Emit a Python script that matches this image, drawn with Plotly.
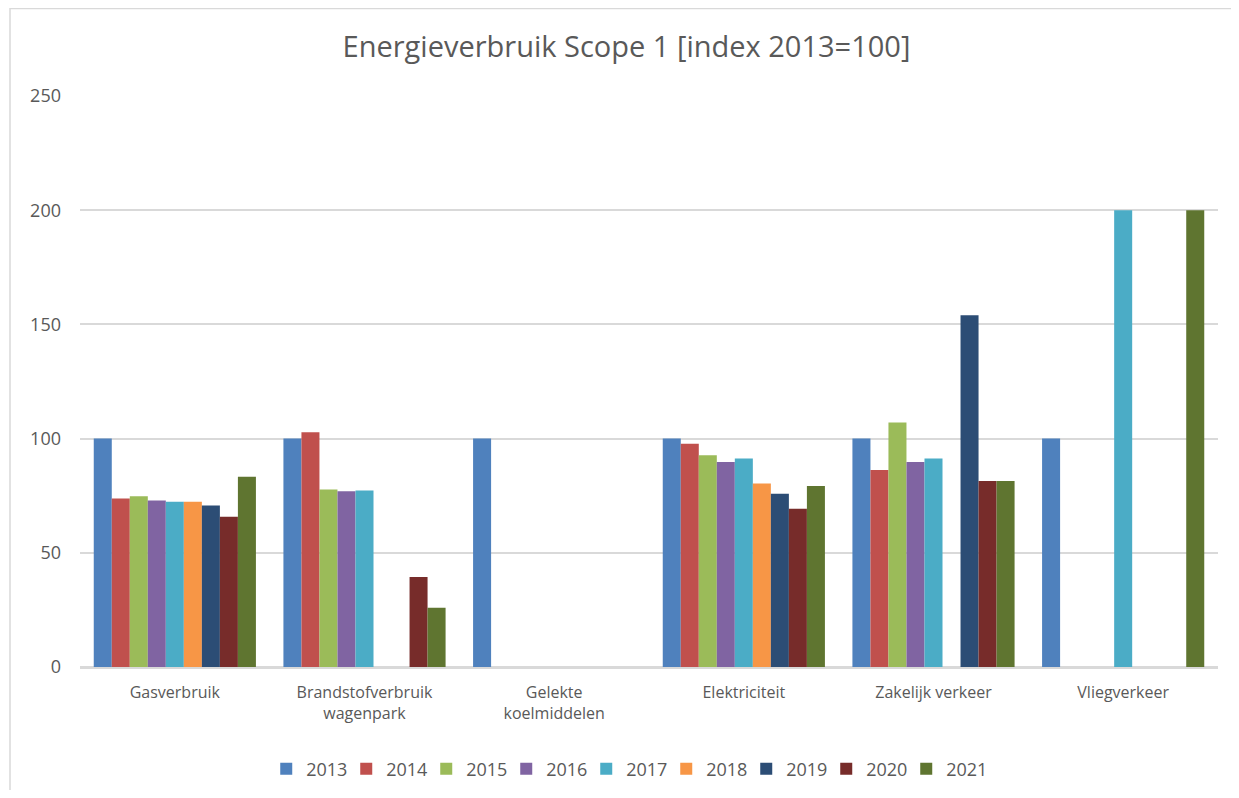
import plotly.graph_objects as go

categories = ["Gasverbruik", "Brandstofverbruik<br>wagenpark", "Gelekte<br>koelmiddelen",
              "Elektriciteit", "Zakelijk verkeer", "Vliegverkeer"]
years = ["2013", "2014", "2015", "2016", "2017", "2018", "2019", "2020", "2021"]

v2013 = [100, 100, 100, 100, 100, 100]
v2014 = [73.8, 102.8, None, 97.7, 86.3, None]
v2015 = [74.8, 77.7, None, 92.7, 107.1, None]
v2016 = [72.9, 76.9, None, 89.8, 89.8, None]
v2017 = [72.4, 77.3, None, 91.3, 91.3, 200]
v2018 = [72.4, None, None, 80.3, None, None]
v2019 = [70.7, None, None, 75.8, 154.0, None]
v2020 = [65.8, 39.4, None, 69.3, 81.4, None]
v2021 = [83.3, 25.9, None, 79.3, 81.4, 200]
series = [v2013, v2014, v2015, v2016, v2017, v2018, v2019, v2020, v2021]

colors = ["#4F81BD", "#C0504D", "#9BBB59", "#8064A2", "#4BACC6",
          "#F79646", "#2C4D75", "#772C2A", "#5F7530"]

fig = go.Figure()
for y, vals, c in zip(years, series, colors):
    fig.add_trace(go.Bar(name=y, x=categories, y=vals, marker_color=c,
                         marker_line_width=0))

# page body has an 8px offset; figure coordinates below are relative to it
W, H = 1223, 782
L, R, T, B = 72, 13, 88, 123
pw, ph = W - L - R, H - T - B

def px_x(x):
    return (x - L) / pw

def px_y(y):
    return (H - B - y) / ph

fig.add_shape(type="rect", xref="paper", yref="paper",
              x0=px_x(2), x1=px_x(W + 10), y0=px_y(H + 10), y1=px_y(0.5),
              line=dict(color="#d9d9d9", width=1.5), fillcolor="rgba(0,0,0,0)",
              layer="below")

fig.update_layout(
    width=W, height=H,
    margin=dict(l=L, r=R, t=T, b=B, autoexpand=False),
    paper_bgcolor="white", plot_bgcolor="white",
    barmode="group", bargap=0.145, bargroupgap=0,
    font=dict(family="Open Sans", color="#595959", size=16),
    title=dict(text="Energieverbruik Scope 1 [index 2013=100]",
               x=0.5 + 7 / W, xanchor="center", y=1 - 39 / H, yanchor="middle",
               font=dict(size=29, color="#595959")),
    legend=dict(orientation="h", x=px_x(546 + 72 - 5) if False else 0.48, xanchor="center",
                yref="container", y=1 - 761 / H, yanchor="middle",
                font=dict(size=18, color="#595959"), itemwidth=30,
                entrywidth=35, traceorder="normal"),
    xaxis=dict(showgrid=False, showline=True, linecolor="#d9d9d9", linewidth=1.5,
               tickfont=dict(size=16, color="#595959"), ticks="",
               ticklabelstandoff=10, automargin=False),
    yaxis=dict(range=[0, 250], dtick=50, showgrid=True, gridcolor="#d9d9d9",
               gridwidth=1.5, zeroline=True, zerolinecolor="#d9d9d9", zerolinewidth=1.5,
               tickfont=dict(size=18, color="#595959"), ticklabelstandoff=18,
               showline=False, automargin=False),
)

fig.write_html("out.html")
